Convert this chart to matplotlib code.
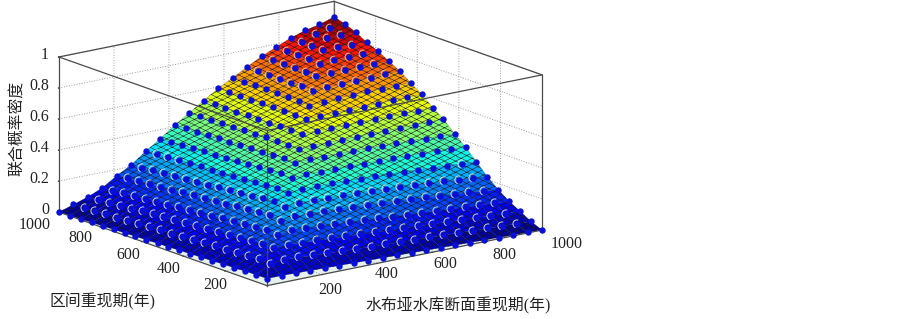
import numpy as np
import matplotlib
matplotlib.use('Agg')
import matplotlib.hatch as mhatch
import matplotlib.pyplot as plt
from matplotlib.path import Path
from mpl_toolkits.mplot3d import proj3d

plt.rcParams['font.family'] = ['Liberation Serif', 'Noto Sans CJK SC']
plt.rcParams['grid.linestyle'] = ':'
plt.rcParams['grid.color'] = '#9a9a9a'
plt.rcParams['grid.linewidth'] = 0.7

# 重现期网格
period = [0, 53, 105, 158, 211, 263, 316, 368, 421, 474, 526, 579, 632, 684, 737, 789, 842, 895, 947, 1000]

# 联合概率密度, 行对应水布垭断面重现期, 列对应区间重现期
density = [
    [.045, .045, .043, .04, .038, .035, .033, .03, .028, .025, .023, .02, .018, .015, .013, .01, .008, .005, .003, 0],
    [.045, .096, .10, .096, .092, .088, .084, .079, .075, .071, .067, .063, .059, .055, .051, .046, .042, .038, .034, .03],
    [.043, .105, .153, .158, .152, .146, .14, .134, .127, .121, .115, .109, .103, .097, .091, .085, .078, .072, .066, .06],
    [.04, .10, .158, .195, .205, .198, .191, .184, .177, .17, .163, .156, .149, .142, .135, .128, .121, .114, .107, .10],
    [.038, .095, .152, .209, .24, .255, .248, .241, .235, .228, .221, .214, .207, .201, .194, .187, .18, .173, .167, .16],
    [.035, .09, .147, .202, .252, .29, .30, .293, .286, .279, .272, .265, .258, .252, .245, .238, .231, .224, .217, .21],
    [.033, .085, .141, .196, .251, .295, .335, .342, .337, .332, .326, .321, .316, .311, .306, .301, .295, .29, .285, .28],
    [.03, .08, .136, .189, .248, .294, .342, .385, .392, .387, .383, .378, .373, .368, .364, .359, .354, .349, .345, .34],
    [.028, .075, .13, .183, .244, .291, .341, .392, .44, .445, .442, .438, .435, .431, .428, .424, .421, .417, .414, .41],
    [.025, .071, .125, .176, .24, .288, .339, .391, .445, .485, .49, .488, .486, .483, .481, .479, .477, .474, .472, .47],
    [.023, .067, .119, .17, .234, .284, .336, .39, .444, .49, .54, .54, .539, .538, .536, .535, .534, .533, .531, .53],
    [.02, .063, .114, .163, .228, .279, .333, .388, .443, .49, .54, .59, .595, .594, .594, .593, .592, .592, .591, .59],
    [.018, .059, .108, .156, .222, .273, .329, .386, .441, .49, .54, .595, .635, .64, .64, .64, .64, .64, .64, .64],
    [.015, .055, .103, .15, .214, .267, .325, .384, .44, .49, .54, .595, .64, .685, .69, .69, .69, .69, .69, .69],
    [.013, .051, .097, .143, .207, .26, .32, .381, .437, .49, .54, .595, .645, .69, .735, .74, .74, .74, .74, .74],
    [.01, .046, .092, .136, .198, .253, .315, .378, .435, .49, .54, .597, .645, .69, .74, .775, .78, .78, .78, .78],
    [.008, .042, .086, .13, .189, .246, .309, .375, .432, .49, .54, .597, .65, .695, .74, .78, .815, .82, .82, .82],
    [.005, .038, .081, .123, .18, .238, .303, .371, .428, .49, .54, .60, .65, .695, .74, .78, .82, .85, .85, .85],
    [.003, .034, .075, .117, .17, .229, .297, .366, .424, .49, .54, .60, .65, .70, .74, .78, .815, .85, .875, .87],
    [0, .03, .07, .11, .16, .22, .29, .36, .42, .49, .54, .60, .65, .70, .74, .78, .81, .85, .88, .90],
]

xy_ticks = [200, 400, 600, 800, 1000]
z_ticks = [0, 0.2, 0.4, 0.6, 0.8, 1]
z_tick_labels = ['0', '0.2', '0.4', '0.6', '0.8', '1']
x_label = '水布垭水库断面重现期(年)'
y_label = '区间重现期(年)'
z_label = '联合概率密度'

X, Y = np.meshgrid(period, period, indexing='ij')
Z = np.array(density)


# 网格线比样本点密, 用扁菱形的填充线画出来
class FlatMesh(mhatch.HatchPatternBase):
    lines = 18

    def __init__(self, hatch, density):
        self.num_vertices = 0
        if 'x' in hatch:
            self.num_vertices = 2 * 2 * (self.lines + self.lines // 2)

    def set_vertices_and_codes(self, vertices, codes):
        k = 0
        for sign in (1, -1):
            for n in range(-self.lines // 2, self.lines):
                c = n / self.lines
                y0, y1 = (c, c + 0.5) if sign > 0 else (c + 0.5, c)
                vertices[k] = (0, y0)
                vertices[k + 1] = (1, y1)
                codes[k] = Path.MOVETO
                codes[k + 1] = Path.LINETO
                k += 2


mhatch._hatch_types = [FlatMesh]

fig = plt.figure(figsize=(9.03, 3.19), dpi=100)

# 轴框放大到画布外, 否则三维图形会被裁剪
W, H = 903.0, 319.0
ax = fig.add_axes([-7.6 / W, -132.6 / H, 600 / W, 600 / H], projection='3d',
                  computed_zorder=False, proj_type='ortho')
ax.set_box_aspect((345, 345, 161), zoom=0.8312)
ax.view_init(elev=15.5, azim=-127.1)
ax.patch.set_alpha(0)

ax.set_xlim(0, 1000)
ax.set_ylim(0, 1000)
ax.set_zlim(0, 1)
ax.set_xticks(xy_ticks)
ax.set_yticks(xy_ticks)
ax.set_zticks(z_ticks)
ax.set_xticklabels([])
ax.set_yticklabels([])
ax.set_zticklabels([])

for axis in (ax.xaxis, ax.yaxis, ax.zaxis):
    axis.set_pane_color((1, 1, 1, 1))
    axis.pane.set_edgecolor('none')
    axis.line.set_color((0, 0, 0, 0))
    axis._axinfo['tick']['inward_factor'] = 0.02
    axis._axinfo['tick']['outward_factor'] = 0.0
    axis._axinfo['tick']['color'] = '#555555'
ax.zaxis.set_pane_color('#e6f1ea')

# 曲面
plt.rcParams['hatch.linewidth'] = 0.4
surf = ax.plot_surface(X, Y, Z, rstride=1, cstride=1, cmap='jet', vmin=0, vmax=Z.max(),
                       shade=False, edgecolor='#1c1c1c', linewidth=0.12, zorder=1)
surf.set_hatch('x')

# 坐标框
lo, hi = 0, 1000
back = [([hi, hi], [hi, hi], [0, 1]), ([lo, hi], [hi, hi], [0, 0]), ([hi, hi], [lo, hi], [0, 0])]
front = [([lo, lo], [lo, lo], [0, 1]), ([lo, lo], [hi, hi], [0, 1]), ([hi, hi], [lo, lo], [0, 1]),
         ([lo, hi], [lo, lo], [1, 1]), ([lo, lo], [lo, hi], [1, 1]), ([lo, hi], [hi, hi], [1, 1]),
         ([hi, hi], [lo, hi], [1, 1]), ([lo, hi], [lo, lo], [0, 0]), ([lo, lo], [lo, hi], [0, 0])]
for xs, ys, zs in back:
    ax.plot(xs, ys, zs, color='#666666', lw=0.9, zorder=0.5)
for xs, ys, zs in front:
    ax.plot(xs, ys, zs, color='#4a4a4a', lw=0.9, zorder=2)

# 白色弧线, 然后是蓝色样本点
arc = Path.arc(70, 250)
arc = Path(arc.vertices + [-0.15, 0.15], arc.codes)
inner = np.zeros(Z.shape, dtype=bool)
inner[1:-1, 1:-1] = True
low = inner & (Z < 0.3)
high = inner & (Z > 0.68)
ax.plot(X[low], Y[low], Z[low], ls='none', marker=arc, ms=6.6, mew=0.6, mec='#e8f0ff', mfc='none', zorder=3)
ax.plot(X[high], Y[high], Z[high], ls='none', marker=arc, ms=6.4, mew=0.6, mec='#f0d0c8', mfc='none', zorder=3)
ax.plot(X.ravel(), Y.ravel(), Z.ravel(), ls='none', marker='o', ms=4.6, mew=0, mfc='#0a0fd6', zorder=4)


def tick_text(x, y, z, s, dx, dy, ha='center'):
    px, py, _ = proj3d.proj_transform(x, y, z, ax.get_proj())
    ax.annotate(s, (px, py), xytext=(dx * 0.72, -dy * 0.72), textcoords='offset points',
                ha=ha, va='center', fontsize=11.4, color='#222222', annotation_clip=False)


x_offsets = [(8, 15), (10, 11), (13, 12), (17, 14), (25, 14)]
y_offsets = [(-10, 14), (-15, 13), (-14, 13), (-20, 11), (-24, 13)]
for t, (dx, dy) in zip(xy_ticks, x_offsets):
    tick_text(t, 0, 0, str(t), dx, dy)
for t, (dx, dy) in zip(xy_ticks, y_offsets):
    tick_text(0, t, 0, str(t), dx, dy)
for t, s in zip(z_ticks, z_tick_labels):
    tick_text(0, 1000, t, s, -10, -2, ha='right')

fig.text(458 / W, 1 - 306 / H, x_label, ha='center', va='center', fontsize=11.4, color='#222222')
fig.text(103 / W, 1 - 302 / H, y_label, ha='center', va='center', fontsize=11.4, color='#222222')
fig.text(18 / W, 1 - 128 / H, z_label, ha='center', va='center', rotation=90, fontsize=11.4, color='#222222')

fig.savefig('out.png', dpi=100)
